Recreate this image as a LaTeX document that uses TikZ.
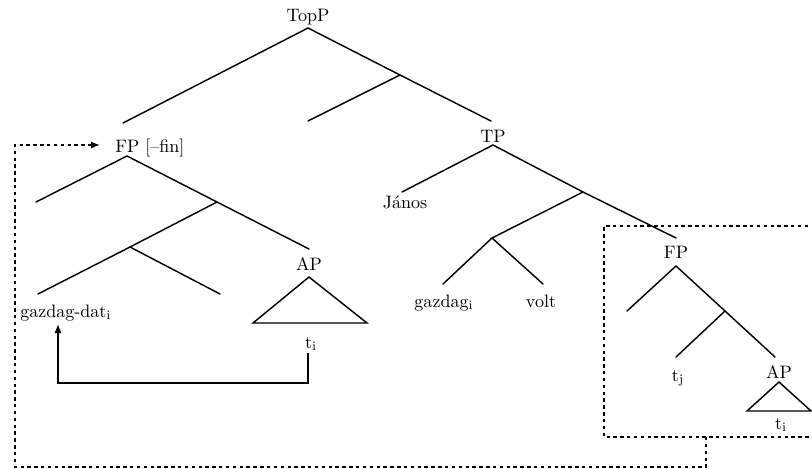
\documentclass[tikz,border=0pt]{standalone}
\usetikzlibrary{arrows.meta}
\begin{document}
\begin{tikzpicture}[x=0.555pt,y=-0.555pt,
  lab/.style={anchor=base,inner sep=0pt,font=\fontsize{10}{12}\selectfont},
  br/.style={line width=0.8pt,line cap=round},
  dots/.style={line width=0.8pt,dash pattern=on 1.9pt off 1.9pt},
  tip/.style={-{Latex[length=5pt,width=4pt]}}]
\useasboundingbox (0,0) rectangle (812,468);
% labels
\node[lab] (topp) at (308,21) {TopP};
\node[lab,anchor=base west] (fp) at (115,152) {FP [--fin]};
\node[lab] (tp) at (493,142) {TP};
\node[lab] (janos) at (405,208) {János};
\node[lab,anchor=base west] (gd) at (20,317) {gazdag-dat$_{\mathrm{i}}$};
\node[lab] (apL) at (309,270) {AP};
\node[lab] (tiL) at (311,348) {t$_{\mathrm{i}}$};
\node[lab] (gz) at (444,307) {gazdag$_{\mathrm{i}}$};
\node[lab] (volt) at (541,307) {volt};
\node[lab] (fpR) at (676,258) {FP};
\node[lab] (tj) at (678,381) {t$_{\mathrm{j}}$};
\node[lab] (apR) at (779,378) {AP};
\node[lab] (tiR) at (781,429) {t$_{\mathrm{i}}$};
% branch points
\coordinate (a0) at (308,28);
\coordinate (a0L) at (123,123);
\coordinate (m1) at (400,75);
\coordinate (m1L) at (308,121);
\coordinate (a0R) at (491,121);
\coordinate (tpA) at (493,145);
\coordinate (tpL) at (402,192);
\coordinate (m2) at (583,192);
\coordinate (m2R) at (676,238);
\coordinate (m3) at (492,238);
\coordinate (m3L) at (443,284);
\coordinate (m3R) at (543,284);
\coordinate (fpA) at (127,156);
\coordinate (fpL) at (36,202);
\coordinate (m4) at (217,202);
\coordinate (m4R) at (309,249);
\coordinate (m5) at (130,247);
\coordinate (m5L) at (38,294);
\coordinate (m5R) at (220,294);
\coordinate (fpRA) at (676,266);
\coordinate (fpRL) at (627,311);
\coordinate (m6) at (725,311);
\coordinate (m6L) at (676,357);
\coordinate (m6R) at (775,357);
\coordinate (triLA) at (309,277);
\coordinate (triL1) at (253,323);
\coordinate (triL2) at (367,323);
\coordinate (triRA) at (779,382);
\coordinate (triR1) at (747,411);
\coordinate (triR2) at (811,411);
% tree
\draw[br] (a0L) -- (a0) -- (m1) -- (a0R);
\draw[br] (m1) -- (m1L);
\draw[br] (tpL) -- (tpA) -- (m2) -- (m2R);
\draw[br] (m2) -- (m3);
\draw[br] (m3L) -- (m3) -- (m3R);
\draw[br] (fpL) -- (fpA) -- (m4) -- (m4R);
\draw[br] (m4) -- (m5) -- (m5L);
\draw[br] (m5) -- (m5R);
\draw[br] (fpRL) -- (fpRA) -- (m6) -- (m6R);
\draw[br] (m6) -- (m6L);
\draw[br,line join=miter] (triLA) -- (triL1) -- (triL2) -- cycle;
\draw[br,line join=miter] (triRA) -- (triR1) -- (triR2) -- cycle;
% movement arrow
\coordinate (arS) at (308,353);
\coordinate (arE) at (58,324);
\draw[line width=0.8pt,tip] (arS) -- (308,383) -| (arE);
% dotted box
\coordinate (bxTL) at (604,226);
\coordinate (bxBL) at (604,437);
\coordinate (bxB) at (706,437);
\draw[dots] (815,226) -- (bxTL) -- (bxBL) -- (815,437);
\coordinate (dotE) at (100,145);
\draw[dots,tip] (bxB) -- (706,467) -- (15,467) -- (15,145) -- (dotE);
\end{tikzpicture}
\end{document}
